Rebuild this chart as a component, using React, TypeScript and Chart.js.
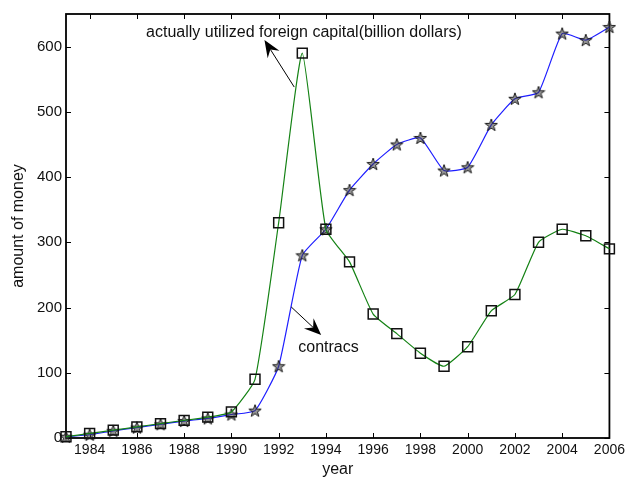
import React, { useEffect, useRef } from "react";
import { Chart, registerables } from "chart.js";

Chart.register(...registerables);

const years = [1983, 1984, 1985, 1986, 1987, 1988, 1989, 1990, 1991, 1992, 1993, 1994, 1995, 1996, 1997, 1998, 1999, 2000, 2001, 2002, 2003, 2004, 2005, 2006];
const contracts = [2, 7, 12, 17, 22, 27, 32, 40, 90, 330, 590, 320, 270, 190, 160, 130, 110, 140, 195, 220, 300, 320, 310, 290];
const utilized = [2, 5, 11, 16, 21, 26, 30, 36, 42, 110, 280, 320, 380, 420, 450, 460, 410, 415, 480, 520, 530, 620, 610, 630];
const xTickValues = [1984, 1986, 1988, 1990, 1992, 1994, 1996, 1998, 2000, 2002, 2004, 2006];
const yTickValues = [0, 100, 200, 300, 400, 500, 600];

const capitalLabel = "actually utilized foreign capital(billion dollars)";
const contractsLabel = "contracs";

function makeStar(): HTMLCanvasElement {
  const c = document.createElement("canvas");
  c.width = 14;
  c.height = 14;
  const ctx = c.getContext("2d")!;
  const cx = 7, cy = 7.5, R = 6.5, r = 2.6;
  ctx.beginPath();
  for (let i = 0; i < 10; i++) {
    const a = -Math.PI / 2 + (i * Math.PI) / 5;
    const rad = i % 2 === 0 ? R : r;
    const px = cx + rad * Math.cos(a);
    const py = cy + rad * Math.sin(a);
    if (i === 0) ctx.moveTo(px, py);
    else ctx.lineTo(px, py);
  }
  ctx.closePath();
  ctx.fillStyle = "rgba(60,60,60,0.55)";
  ctx.fill();
  ctx.strokeStyle = "#1a1a1a";
  ctx.lineWidth = 1;
  ctx.stroke();
  return c;
}

function drawArrow(ctx: CanvasRenderingContext2D, x1: number, y1: number, x2: number, y2: number) {
  const ang = Math.atan2(y2 - y1, x2 - x1);
  const headLen = 17, headW = 7, notch = 11;
  ctx.save();
  ctx.strokeStyle = "#000";
  ctx.fillStyle = "#000";
  ctx.lineWidth = 1;
  ctx.beginPath();
  ctx.moveTo(x1, y1);
  ctx.lineTo(x2 - Math.cos(ang) * notch, y2 - Math.sin(ang) * notch);
  ctx.stroke();
  const bx = x2 - Math.cos(ang) * headLen;
  const by = y2 - Math.sin(ang) * headLen;
  const nx = -Math.sin(ang), ny = Math.cos(ang);
  ctx.beginPath();
  ctx.moveTo(x2, y2);
  ctx.lineTo(bx + nx * headW, by + ny * headW);
  ctx.lineTo(x2 - Math.cos(ang) * notch, y2 - Math.sin(ang) * notch);
  ctx.lineTo(bx - nx * headW, by - ny * headW);
  ctx.closePath();
  ctx.fill();
  ctx.restore();
}

const framePlugin = {
  id: "matlabFrame",
  beforeDatasetsDraw(chart: any) {
    const { ctx, chartArea: a, scales } = chart;
    const xs = scales.x, ys = scales.y;
    ctx.save();
    ctx.strokeStyle = "#000";
    ctx.lineWidth = 1;
    const tl = 5;
    ctx.beginPath();
    xTickValues.forEach((v) => {
      const px = Math.round(xs.getPixelForValue(v)) + 0.5;
      ctx.moveTo(px, a.bottom);
      ctx.lineTo(px, a.bottom - tl);
      ctx.moveTo(px, a.top);
      ctx.lineTo(px, a.top + tl);
    });
    yTickValues.forEach((v) => {
      const py = Math.round(ys.getPixelForValue(v)) + 0.5;
      ctx.moveTo(a.left, py);
      ctx.lineTo(a.left + tl, py);
      ctx.moveTo(a.right, py);
      ctx.lineTo(a.right - tl, py);
    });
    ctx.stroke();
    ctx.lineWidth = 1.8;
    ctx.strokeRect(a.left, a.top, a.right - a.left, a.bottom - a.top);
    ctx.restore();
  },
  afterDatasetsDraw(chart: any) {
    const { ctx, scales } = chart;
    const xs = scales.x, ys = scales.y;
    ctx.save();
    ctx.fillStyle = "#111";
    ctx.font = '16px "Liberation Sans", Arial, sans-serif';
    ctx.textBaseline = "middle";
    ctx.textAlign = "center";
    ctx.fillText(capitalLabel, xs.getPixelForValue(1993.07), ys.getPixelForValue(621));
    ctx.textAlign = "left";
    ctx.fillText(contractsLabel, xs.getPixelForValue(1992.83), ys.getPixelForValue(138));
    drawArrow(ctx, xs.getPixelForValue(1992.66), ys.getPixelForValue(538), xs.getPixelForValue(1991.4), ys.getPixelForValue(610));
    drawArrow(ctx, xs.getPixelForValue(1992.53), ys.getPixelForValue(201), xs.getPixelForValue(1993.8), ys.getPixelForValue(158));
    ctx.restore();
  },
};

export default function App() {
  const ref = useRef<HTMLCanvasElement | null>(null);
  useEffect(() => {
    if (!ref.current) return;
    const star = makeStar();
    const chart = new Chart(ref.current, {
      type: "line",
      data: {
        datasets: [
          {
            label: "contracts",
            data: years.map((y, i) => ({ x: y, y: contracts[i] })),
            borderColor: "rgb(20,130,20)",
            borderWidth: 1.2,
            tension: 0.15,
            clip: false,
            pointStyle: "rect",
            pointRadius: 7,
            pointBorderColor: "#111",
            pointBackgroundColor: "rgba(0,0,0,0)",
            pointBorderWidth: 1.5,
          },
          {
            label: "utilized",
            data: years.map((y, i) => ({ x: y, y: utilized[i] })),
            borderColor: "rgb(30,30,255)",
            borderWidth: 1.2,
            tension: 0.15,
            clip: false,
            pointStyle: star as any,
            pointRadius: 6,
          },
        ],
      },
      options: {
        animation: false,
        responsive: false,
        events: [],
        layout: { padding: { left: 0, top: 14, right: 17, bottom: 0 } },
        plugins: { legend: { display: false }, tooltip: { enabled: false } },
        scales: {
          x: {
            type: "linear",
            min: 1983,
            max: 2006,
            afterBuildTicks: (axis: any) => {
              axis.ticks = xTickValues.map((v) => ({ value: v }));
            },
            afterFit: (axis: any) => {
              axis.height = 41;
            },
            grid: { display: false, drawTicks: false },
            border: { display: false },
            ticks: {
              padding: 4,
              color: "#111",
              font: { family: '"Liberation Sans", Arial, sans-serif', size: 14 },
              maxRotation: 0,
              autoSkip: false,
              callback: (v: any) => String(v),
            },
            title: {
              display: true,
              text: "year",
              color: "#111",
              padding: { top: 0, bottom: 0 },
              font: { family: '"Liberation Sans", Arial, sans-serif', size: 16 },
            },
          },
          y: {
            type: "linear",
            min: 0,
            max: 650,
            afterBuildTicks: (axis: any) => {
              axis.ticks = yTickValues.map((v) => ({ value: v }));
            },
            afterFit: (axis: any) => {
              axis.width = 66;
            },
            grid: { display: false, drawTicks: false },
            border: { display: false },
            ticks: {
              padding: 4,
              color: "#111",
              font: { family: '"Liberation Sans", Arial, sans-serif', size: 15 },
              autoSkip: false,
              callback: (v: any) => String(v),
            },
            title: {
              display: true,
              text: "amount of money",
              color: "#111",
              padding: { top: 9, bottom: 0 },
              font: { family: '"Liberation Sans", Arial, sans-serif', size: 16 },
            },
          },
        },
      },
      plugins: [framePlugin],
    } as any);
    return () => chart.destroy();
  }, []);
  return (
    <div style={{ position: "absolute", left: 0, top: 0, width: 629, height: 479, background: "#fff" }}>
      <canvas ref={ref} width={629} height={479} style={{ display: "block", width: 629, height: 479 }} />
    </div>
  );
}
